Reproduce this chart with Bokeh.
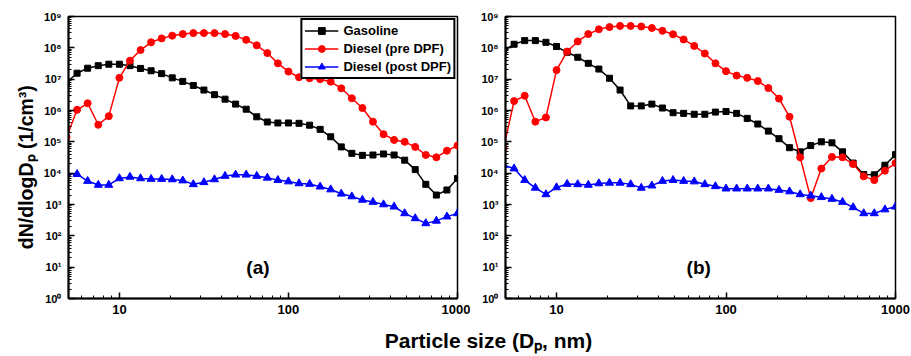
import math
from bokeh.plotting import figure
from bokeh.models import FixedTicker, CustomJSTickFormatter, Label, Range1d
from bokeh.layouts import row, column
from bokeh.embed import file_html
from bokeh.resources import INLINE

# Particle size channels (nm)
size_nm = [4.87, 5.62, 6.49, 7.50, 8.66, 10.0, 11.55, 13.34, 15.40, 17.78,
           20.54, 23.71, 27.38, 31.62, 36.52, 42.17, 48.70, 56.23, 64.94, 74.99,
           86.60, 100.0, 115.5, 133.4, 154.0, 177.8, 205.4, 237.1, 273.8, 316.2,
           365.2, 421.7, 487.0, 562.3, 649.4, 749.9, 866.0, 1000.0]

# Panel (a)
gasoline_a = [7.9e6, 1.55e7, 2.24e7, 2.7e7, 3.0e7, 3.0e7, 2.7e7, 2.2e7, 1.85e7, 1.5e7,
              1.1e7, 8.5e6, 6.3e6, 4.5e6, 3.2e6, 2.3e6, 1.6e6, 1.1e6, 6.3e5, 4.3e5,
              4.0e5, 4.0e5, 3.9e5, 3.4e5, 2.5e5, 1.45e5, 6.9e4, 4.3e4, 3.7e4, 3.8e4,
              4.1e4, 3.8e4, 2.6e4, 1.3e4, 4.4e3, 2.0e3, 2.9e3, 6.8e3]
diesel_pre_a = [1.4e5, 1.05e6, 1.7e6, 3.5e5, 6.6e5, 1.1e7, 3.9e7, 8.5e7, 1.5e8, 2.0e8,
                2.45e8, 2.75e8, 2.95e8, 2.95e8, 2.95e8, 2.75e8, 2.4e8, 1.8e8, 1.2e8, 6.8e7,
                3.2e7, 1.75e7, 1.15e7, 1.07e7, 1.0e7, 8.3e6, 5.1e6, 2.45e6, 1.2e6, 4.4e5,
                1.75e5, 1.15e5, 1.0e5, 6.9e4, 3.8e4, 3.2e4, 5.2e4, 7.6e4]
diesel_post_a = [9.8e3, 9.3e3, 5.6e3, 4.2e3, 4.2e3, 6.8e3, 7.6e3, 6.8e3, 6.5e3, 6.5e3,
                 6.3e3, 5.8e3, 4.4e3, 5.1e3, 6.3e3, 8.1e3, 8.9e3, 8.9e3, 8.1e3, 7.1e3,
                 6.0e3, 5.4e3, 4.7e3, 4.5e3, 3.7e3, 3.0e3, 2.2e3, 1.8e3, 1.4e3, 1.2e3,
                 1.0e3, 8.5e2, 5.2e2, 3.6e2, 2.5e2, 3.0e2, 4.1e2, 5.2e2]

# Panel (b)
gasoline_b = [7.9e7, 1.3e8, 1.7e8, 1.7e8, 1.5e8, 1.1e8, 7.2e7, 5.0e7, 3.2e7, 2.1e7,
              1.07e7, 4.5e6, 1.4e6, 1.4e6, 1.6e6, 1.2e6, 8.5e5, 8.1e5, 7.6e5, 7.6e5,
              8.9e5, 9.3e5, 8.1e5, 5.6e5, 3.7e5, 2.2e5, 1.26e5, 6.5e4, 4.8e4, 7.6e4,
              1.0e5, 9.3e4, 4.8e4, 2.1e4, 9.1e3, 8.9e3, 1.8e4, 3.9e4]
diesel_pre_b = [6.3e4, 2.0e6, 2.95e6, 4.4e5, 6.0e5, 1.95e7, 7.6e7, 1.6e8, 2.75e8, 3.9e8,
                4.6e8, 5.0e8, 5.0e8, 4.8e8, 4.3e8, 3.5e8, 2.7e8, 1.85e8, 1.15e8, 6.6e7,
                3.2e7, 1.8e7, 1.3e7, 1.1e7, 8.7e6, 5.2e6, 2.4e6, 6.3e5, 3.2e4, 1.6e3,
                1.4e4, 3.3e4, 3.2e4, 1.95e4, 7.9e3, 6.0e3, 1.2e4, 2.1e4]
diesel_post_b = [1.8e4, 1.4e4, 6.0e3, 3.4e3, 2.1e3, 3.5e3, 4.5e3, 4.4e3, 4.2e3, 4.7e3,
                 4.9e3, 4.9e3, 4.4e3, 3.4e3, 4.0e3, 5.6e3, 6.0e3, 5.6e3, 5.4e3, 4.4e3,
                 3.8e3, 3.2e3, 3.2e3, 3.2e3, 3.2e3, 3.2e3, 2.9e3, 2.6e3, 2.1e3, 1.9e3,
                 1.7e3, 1.5e3, 1.2e3, 8.1e2, 5.2e2, 5.2e2, 6.9e2, 8.5e2]

series_names = ["Gasoline", "Diesel (pre DPF)", "Diesel (post DPF)"]
y_title = "dN/dlogD\u209a (1/cm\u00b3)"
x_title = "Particle size (D\u209a, nm)"
x_major = [10, 100, 1000]
x_minor = [6, 7, 8, 9, 20, 30, 40, 50, 60, 70, 80, 90,
           200, 300, 400, 500, 600, 700, 800, 900]
y_major = [1, 10, 100, 1e3, 1e4, 1e5, 1e6, 1e7, 1e8, 1e9]
y_minor = [m * d for d in [1, 10, 100, 1e3, 1e4, 1e5, 1e6, 1e7, 1e8] for m in range(2, 10)]

FONT = "Liberation Sans"
COLORS = ["black", "#ff0000", "#0000ff"]
MARKERS = ["square", "circle", "triangle"]
MSIZES = [6, 7, 8]

ysup = CustomJSTickFormatter(code="""
const sup = ["\u2070","\u00b9","\u00b2","\u00b3","\u2074","\u2075","\u2076","\u2077","\u2078","\u2079"];
const e = Math.round(Math.log10(tick));
return "10" + sup[e];
""")
xfmt = CustomJSTickFormatter(code="return Math.round(tick).toString();")


def make_panel(width, bl, br, series, tag, tag_x, legend):
    p = figure(width=width, height=322, x_axis_type="log", y_axis_type="log",
               x_range=Range1d(5, 1000), y_range=Range1d(1, 1e9),
               output_backend="svg", toolbar_location=None,
               min_border_left=bl, min_border_right=br,
               min_border_top=16, min_border_bottom=24)
    p.xgrid.visible = False
    p.ygrid.visible = False
    p.background_fill_color = "white"
    p.border_fill_color = "white"
    p.outline_line_color = "black"
    p.outline_line_width = 1.5
    p.outline_line_alpha = 1.0

    p.xaxis.ticker = FixedTicker(ticks=x_major, minor_ticks=x_minor)
    p.yaxis.ticker = FixedTicker(ticks=y_major, minor_ticks=y_minor)
    p.xaxis.formatter = xfmt
    p.yaxis.formatter = ysup
    for ax in (p.xaxis, p.yaxis):
        ax.axis_line_width = 2
        ax.axis_line_color = "black"
        ax.major_tick_in = 6
        ax.major_tick_out = 0
        ax.minor_tick_in = 3
        ax.minor_tick_out = 0
        ax.major_tick_line_width = 1.5
        ax.minor_tick_line_width = 1
        ax.major_tick_line_color = "black"
        ax.minor_tick_line_color = "black"
        ax.major_label_text_font = FONT
        ax.major_label_text_font_style = "bold"
        ax.major_label_text_color = "black"
    p.xaxis.major_label_text_font_size = "13px"
    p.xaxis.major_label_standoff = 6
    p.yaxis.major_label_text_font_size = "11px"
    p.yaxis.major_label_standoff = 7

    for name, ys, col, mk, ms in zip(series_names, series, COLORS, MARKERS, MSIZES):
        if legend:
            p.line(size_nm, ys, line_color=col, line_width=1.5, legend_label=name)
            p.scatter(size_nm, ys, marker=mk, size=ms, fill_color=col,
                      line_color=col, legend_label=name)
        else:
            p.line(size_nm, ys, line_color=col, line_width=1.5)
            p.scatter(size_nm, ys, marker=mk, size=ms, fill_color=col, line_color=col)

    p.add_layout(Label(x=tag_x, y=10, text=tag, text_align="center",
                       text_baseline="middle", text_font=FONT,
                       text_font_style="bold", text_font_size="19px",
                       text_color="black"))

    if legend:
        lg = p.legend[0]
        lg.location = "top_right"
        lg.margin = 2
        lg.padding = 2
        lg.spacing = 1
        lg.label_height = 17
        lg.glyph_height = 17
        lg.glyph_width = 34
        lg.label_standoff = 5
        lg.label_text_font = FONT
        lg.label_text_font_style = "bold"
        lg.label_text_font_size = "13px"
        lg.label_text_color = "black"
        lg.border_line_color = "black"
        lg.border_line_width = 2
        lg.border_line_alpha = 1.0
        lg.background_fill_alpha = 1.0
    return p


def text_strip(width, height, text, x, y, size, angle=0.0):
    f = figure(width=width, height=height, x_range=Range1d(0, width),
               y_range=Range1d(0, height), x_axis_type=None, y_axis_type=None,
               output_backend="svg", toolbar_location=None, min_border=0)
    f.xgrid.visible = False
    f.ygrid.visible = False
    f.outline_line_color = None
    f.add_layout(Label(x=x, y=y, text=text, angle=angle, text_align="center",
                       text_baseline="middle", text_font=FONT, text_font_style="bold",
                       text_font_size=size, text_color="black"))
    return f


py = text_strip(40, 322, y_title, 25, 150, "19.5px", math.pi / 2)
pa = make_panel(430, 28, 13, [gasoline_a, diesel_pre_a, diesel_post_a], "(a)", 66, True)
pb = make_panel(441, 35, 16, [gasoline_b, diesel_pre_b, diesel_post_b], "(b)", 69, False)
px = text_strip(911, 34, x_title, 488, 16, "21px")

layout = column(row(py, pa, pb, spacing=0), px, spacing=0)
open("out.html", "w").write(file_html(layout, INLINE))
